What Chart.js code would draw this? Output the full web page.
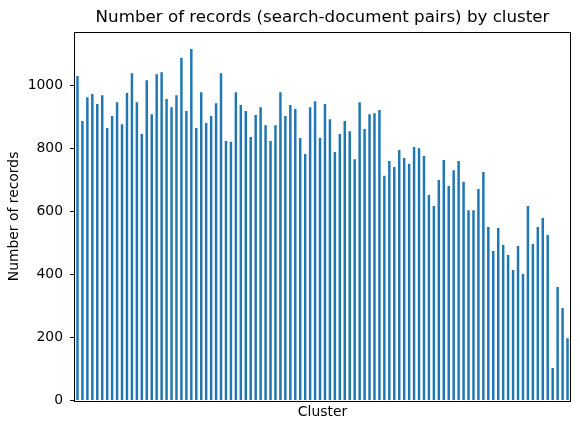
<!DOCTYPE html>
<html>
<head>
<meta charset="utf-8">
<script src="https://cdn.jsdelivr.net/npm/chart.js@4.4.0/dist/chart.umd.min.js"></script>
<style>
  html, body { margin: 0; padding: 0; background: #fff; }
  canvas { display: block; }
</style>
</head>
<body>
<canvas id="chartClusters" width="580" height="431" style="width:580px;height:431px"></canvas>
<script>
// --- Datos ---
const clusters = [
    "0","1","2","3","4","5","6","7","8","9",
    "10","11","12","13","14","15","16","17","18","19",
    "20","21","22","23","24","25","26","27","28","29",
    "30","31","32","33","34","35","36","37","38","39",
    "40","41","42","43","44","45","46","47","48","49",
    "50","51","52","53","54","55","56","57","58","59",
    "60","61","62","63","64","65","66","67","68","69",
    "70","71","72","73","74","75","76","77","78","79",
    "80","81","82","83","84","85","86","87","88","89",
    "90","91","92","93","94","95","96","97","98","99"
];

const records = [
    1031, 888, 964, 974, 942, 970, 866, 904, 948, 878,
    977, 1040, 948, 847, 1018, 910, 1037, 1043, 958, 932,
    970, 1089, 920, 1117, 866, 980, 882, 904, 945, 1040,
    825, 822, 980, 939, 920, 837, 907, 932, 875, 825,
    875, 980, 904, 939, 926, 834, 783, 932, 951, 834,
    942, 894, 790, 847, 888, 856, 767, 948, 863, 910,
    913, 923, 714, 761, 742, 796, 771, 752, 806, 802,
    777, 653, 618, 701, 764, 682, 732, 761, 695, 605,
    605, 672, 726, 551, 475, 548, 494, 462, 415, 491,
    402, 618, 497, 551, 580, 526, 103, 361, 294, 198
];

const yTicks = [0, 200, 400, 600, 800, 1000];

const titulo = "Number of records (search-document pairs) by cluster";
const fuente = "'DejaVu Sans', sans-serif";

// --- Marco completo (4 lados) ---
const marcoPlugin = {
    id: "marco",
    afterDraw(chart) {
        const { ctx, chartArea: a } = chart;
        ctx.save();
        ctx.strokeStyle = "#000";
        ctx.lineWidth = 1;
        ctx.strokeRect(Math.round(a.left) - 0.5, Math.round(a.top) + 0.5,
            Math.round(a.right) - Math.round(a.left) + 1, Math.round(a.bottom) - Math.round(a.top));
        ctx.restore();
    }
};

const ctx = document.getElementById("chartClusters").getContext("2d");
new Chart(ctx, {
    type: "bar",
    data: {
        labels: clusters,
        datasets: [{
            label: "Number of records",
            data: records,
            backgroundColor: "#1f77b4",
            borderWidth: 0,
            barPercentage: 0.5,
            categoryPercentage: 1.0
        }]
    },
    options: {
        responsive: false,
        animation: false,
        devicePixelRatio: 1,
        layout: { padding: { left: 0, right: 10, top: 0, bottom: 0 } },
        plugins: {
            legend: { display: false },
            tooltip: { enabled: false },
            title: {
                display: true,
                text: titulo,
                fullSize: false,
                color: "#000",
                font: { family: fuente, size: 16.7, weight: "normal" },
                padding: { top: 7.5, bottom: 4.8 }
            }
        },
        scales: {
            x: {
                grid: { display: false },
                border: { display: false },
                ticks: { display: false },
                title: {
                    display: true,
                    text: "Cluster",
                    color: "#000",
                    font: { family: fuente, size: 13.9 },
                    padding: { top: 0, bottom: 10 }
                },
                afterFit: (scale) => { scale.height = 30.5; }
            },
            y: {
                min: 0,
                max: 1170,
                afterBuildTicks: (scale) => { scale.ticks = yTicks.map(v => ({ value: v })); },
                grid: {
                    drawOnChartArea: false,
                    drawTicks: true,
                    tickLength: 5,
                    color: "#000",
                    lineWidth: 1
                },
                border: { display: false },
                ticks: {
                    color: "#000",
                    padding: 7,
                    font: { family: fuente, size: 13.9 },
                    callback: (v) => String(v)
                },
                title: {
                    display: true,
                    text: "Number of records",
                    color: "#000",
                    font: { family: fuente, size: 13.9 },
                    padding: { top: 6.5, bottom: 0 }
                },
                afterFit: (scale) => { scale.width = 75; }
            }
        }
    },
    plugins: [marcoPlugin]
});
</script>
</body>
</html>
